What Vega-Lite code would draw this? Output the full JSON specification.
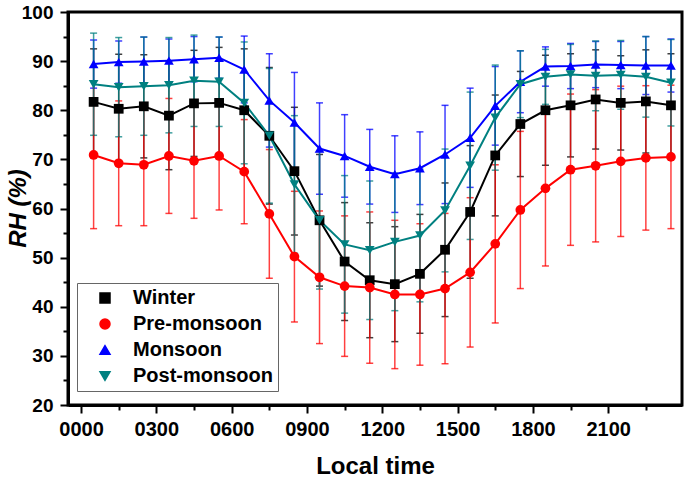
{
  "$schema": "https://vega.github.io/schema/vega-lite/v6.json",
  "width": 614,
  "height": 393,
  "autosize": {"type": "none"},
  "padding": {"left": 68, "top": 12, "right": 3, "bottom": 74},
  "background": "white",
  "config": {
    "view": {"stroke": "black", "strokeWidth": 3},
    "font": "Liberation Sans",
    "axis": {
      "grid": false,
      "labelFont": "Liberation Sans",
      "labelFontWeight": "bold",
      "labelColor": "black",
      "titleFont": "Liberation Sans",
      "titleFontWeight": "bold",
      "titleColor": "black",
      "tickColor": "black",
      "domainColor": "black",
      "domainWidth": 3,
      "tickWidth": 2
    }
  },
  "datasets": {
    "rh": [
      {"t":0.5,"season":"Winter","rh":81.7,"sd":10.8},{"t":1.5,"season":"Winter","rh":80.3,"sd":11.1},{"t":2.5,"season":"Winter","rh":80.8,"sd":10.5},{"t":3.5,"season":"Winter","rh":78.9,"sd":11.0},{"t":4.5,"season":"Winter","rh":81.4,"sd":10.8},{"t":5.5,"season":"Winter","rh":81.5,"sd":11.3},{"t":6.5,"season":"Winter","rh":80.0,"sd":12.5},{"t":7.5,"season":"Winter","rh":74.8,"sd":13.9},{"t":8.5,"season":"Winter","rh":67.6,"sd":13.0},{"t":9.5,"season":"Winter","rh":57.6,"sd":13.4},{"t":10.5,"season":"Winter","rh":49.2,"sd":12.0},{"t":11.5,"season":"Winter","rh":45.4,"sd":11.7},{"t":12.5,"season":"Winter","rh":44.6,"sd":11.7},{"t":13.5,"season":"Winter","rh":46.7,"sd":12.1},{"t":14.5,"season":"Winter","rh":51.6,"sd":13.6},{"t":15.5,"season":"Winter","rh":59.3,"sd":13.5},{"t":16.5,"season":"Winter","rh":70.8,"sd":12.3},{"t":17.5,"season":"Winter","rh":77.2,"sd":10.7},{"t":18.5,"season":"Winter","rh":80.0,"sd":11.2},{"t":19.5,"season":"Winter","rh":81.0,"sd":10.5},{"t":20.5,"season":"Winter","rh":82.2,"sd":10.1},{"t":21.5,"season":"Winter","rh":81.5,"sd":9.6},{"t":22.5,"season":"Winter","rh":81.8,"sd":10.5},{"t":23.5,"season":"Winter","rh":81.0,"sd":10.5},
      {"t":0.5,"season":"Pre-monsoon","rh":70.9,"sd":15.0},{"t":1.5,"season":"Pre-monsoon","rh":69.2,"sd":12.7},{"t":2.5,"season":"Pre-monsoon","rh":68.9,"sd":12.4},{"t":3.5,"season":"Pre-monsoon","rh":70.7,"sd":11.7},{"t":4.5,"season":"Pre-monsoon","rh":69.7,"sd":11.7},{"t":5.5,"season":"Pre-monsoon","rh":70.7,"sd":11.0},{"t":6.5,"season":"Pre-monsoon","rh":67.5,"sd":10.6},{"t":7.5,"season":"Pre-monsoon","rh":58.9,"sd":13.1},{"t":8.5,"season":"Pre-monsoon","rh":50.2,"sd":13.3},{"t":9.5,"season":"Pre-monsoon","rh":46.0,"sd":13.5},{"t":10.5,"season":"Pre-monsoon","rh":44.2,"sd":14.3},{"t":11.5,"season":"Pre-monsoon","rh":43.9,"sd":15.4},{"t":12.5,"season":"Pre-monsoon","rh":42.5,"sd":15.1},{"t":13.5,"season":"Pre-monsoon","rh":42.5,"sd":14.4},{"t":14.5,"season":"Pre-monsoon","rh":43.7,"sd":15.3},{"t":15.5,"season":"Pre-monsoon","rh":47.0,"sd":15.2},{"t":16.5,"season":"Pre-monsoon","rh":52.8,"sd":16.1},{"t":17.5,"season":"Pre-monsoon","rh":59.7,"sd":16.0},{"t":18.5,"season":"Pre-monsoon","rh":64.1,"sd":15.8},{"t":19.5,"season":"Pre-monsoon","rh":67.9,"sd":15.4},{"t":20.5,"season":"Pre-monsoon","rh":68.7,"sd":15.5},{"t":21.5,"season":"Pre-monsoon","rh":69.6,"sd":15.3},{"t":22.5,"season":"Pre-monsoon","rh":70.3,"sd":14.7},{"t":23.5,"season":"Pre-monsoon","rh":70.5,"sd":14.6},
      {"t":0.5,"season":"Monsoon","rh":89.4,"sd":4.9},{"t":1.5,"season":"Monsoon","rh":89.8,"sd":4.3},{"t":2.5,"season":"Monsoon","rh":89.9,"sd":5.0},{"t":3.5,"season":"Monsoon","rh":90.1,"sd":4.4},{"t":4.5,"season":"Monsoon","rh":90.4,"sd":4.6},{"t":5.5,"season":"Monsoon","rh":90.7,"sd":4.2},{"t":6.5,"season":"Monsoon","rh":88.3,"sd":6.8},{"t":7.5,"season":"Monsoon","rh":82.0,"sd":9.5},{"t":8.5,"season":"Monsoon","rh":77.5,"sd":10.2},{"t":9.5,"season":"Monsoon","rh":72.2,"sd":9.3},{"t":10.5,"season":"Monsoon","rh":70.7,"sd":8.4},{"t":11.5,"season":"Monsoon","rh":68.5,"sd":7.6},{"t":12.5,"season":"Monsoon","rh":67.0,"sd":7.8},{"t":13.5,"season":"Monsoon","rh":68.2,"sd":7.4},{"t":14.5,"season":"Monsoon","rh":71.0,"sd":10.0},{"t":15.5,"season":"Monsoon","rh":74.4,"sd":10.1},{"t":16.5,"season":"Monsoon","rh":80.9,"sd":8.0},{"t":17.5,"season":"Monsoon","rh":85.8,"sd":6.3},{"t":18.5,"season":"Monsoon","rh":88.9,"sd":4.0},{"t":19.5,"season":"Monsoon","rh":89.0,"sd":4.6},{"t":20.5,"season":"Monsoon","rh":89.3,"sd":4.7},{"t":21.5,"season":"Monsoon","rh":89.2,"sd":4.8},{"t":22.5,"season":"Monsoon","rh":89.1,"sd":5.9},{"t":23.5,"season":"Monsoon","rh":89.1,"sd":5.4},
      {"t":0.5,"season":"Post-monsoon","rh":85.3,"sd":10.4},{"t":1.5,"season":"Post-monsoon","rh":84.7,"sd":10.1},{"t":2.5,"season":"Post-monsoon","rh":84.9,"sd":10.0},{"t":3.5,"season":"Post-monsoon","rh":85.1,"sd":9.7},{"t":4.5,"season":"Post-monsoon","rh":86.0,"sd":9.3},{"t":5.5,"season":"Post-monsoon","rh":85.8,"sd":9.1},{"t":6.5,"season":"Post-monsoon","rh":81.5,"sd":12.4},{"t":7.5,"season":"Post-monsoon","rh":74.8,"sd":13.7},{"t":8.5,"season":"Post-monsoon","rh":64.9,"sd":14.0},{"t":9.5,"season":"Post-monsoon","rh":57.6,"sd":14.0},{"t":10.5,"season":"Post-monsoon","rh":52.7,"sd":14.0},{"t":11.5,"season":"Post-monsoon","rh":51.5,"sd":14.1},{"t":12.5,"season":"Post-monsoon","rh":53.2,"sd":14.0},{"t":13.5,"season":"Post-monsoon","rh":54.5,"sd":13.5},{"t":14.5,"season":"Post-monsoon","rh":59.6,"sd":12.5},{"t":15.5,"season":"Post-monsoon","rh":68.7,"sd":15.0},{"t":16.5,"season":"Post-monsoon","rh":78.5,"sd":10.7},{"t":17.5,"season":"Post-monsoon","rh":85.3,"sd":6.8},{"t":18.5,"season":"Post-monsoon","rh":86.8,"sd":5.6},{"t":19.5,"season":"Post-monsoon","rh":87.3,"sd":6.1},{"t":20.5,"season":"Post-monsoon","rh":87.0,"sd":7.1},{"t":21.5,"season":"Post-monsoon","rh":87.2,"sd":7.0},{"t":22.5,"season":"Post-monsoon","rh":86.8,"sd":8.2},{"t":23.5,"season":"Post-monsoon","rh":85.6,"sd":8.8}
    ]
  },
  "data": {"name": "rh"},
  "resolve": {"axis": {"x": "independent", "y": "independent"}},
  "layer": [
    {
      "mark": {"type": "errorbar", "ticks": {"size": 7, "thickness": 1.5, "opacity": 0.75}, "rule": {"strokeWidth": 1.5, "opacity": 0.75}},
      "encoding": {
        "x": {"field": "t", "type": "quantitative",
          "scale": {"domain": [-0.52, 23.94], "nice": false, "zero": false},
          "axis": {"orient": "bottom", "values": [0, 3, 6, 9, 12, 15, 18, 21],
            "labelExpr": "(datum.value < 10 ? '0' : '') + datum.value + '00'",
            "labelFontSize": 20, "labelPadding": 6, "tickSize": 8, "labelFlush": false,
            "title": "Local time", "titleFontSize": 24, "titleY": 61, "titleBaseline": "middle", "titleX": 307}},
        "y": {"field": "rh", "type": "quantitative",
          "scale": {"domain": [20, 100], "nice": false, "zero": false},
          "axis": {"orient": "left", "values": [20, 30, 40, 50, 60, 70, 80, 90, 100],
            "labelFontSize": 19, "labelPadding": 7, "tickSize": 8, "labelFlush": false,
            "title": "RH (%)", "titleFontSize": 24, "titleFontStyle": "italic", "titleAngle": -90,
            "titleX": -50, "titleY": 196, "titleAlign": "center", "titleBaseline": "middle"}},
        "yError": {"field": "sd"},
        "color": {"field": "season", "type": "nominal",
          "scale": {"domain": ["Winter", "Pre-monsoon", "Monsoon", "Post-monsoon"], "range": ["#000000", "#ff0000", "#0000ff", "#008080"]},
          "legend": {"title": null, "orient": "none", "legendX": 9, "legendY": 271, "direction": "vertical",
            "labelFont": "Liberation Sans", "labelFontWeight": "bold", "labelFontSize": 20, "labelColor": "black",
            "strokeColor": "#666666", "fillColor": "white", "padding": 5, "rowPadding": 6,
            "symbolOffset": 13, "labelOffset": 18, "symbolSize": 100, "symbolOpacity": 1}}
      }
    },
    {
      "mark": {"type": "line", "strokeWidth": 2},
      "encoding": {
        "x": {"field": "t", "type": "quantitative",
          "axis": {"orient": "bottom", "values": [1.5, 4.5, 7.5, 10.5, 13.5, 16.5, 19.5, 22.5], "labels": false, "domain": false, "tickSize": 5, "title": null}},
        "y": {"field": "rh", "type": "quantitative",
          "axis": {"orient": "left", "values": [25, 35, 45, 55, 65, 75, 85, 95], "labels": false, "domain": false, "tickSize": 5, "title": null}},
        "color": {"field": "season", "type": "nominal"}
      }
    },
    {
      "mark": {"type": "point", "filled": true, "size": 95, "opacity": 1, "strokeWidth": 0},
      "encoding": {
        "x": {"field": "t", "type": "quantitative", "axis": null},
        "y": {"field": "rh", "type": "quantitative", "axis": null},
        "color": {"field": "season", "type": "nominal"},
        "shape": {"field": "season", "type": "nominal",
          "scale": {"domain": ["Winter", "Pre-monsoon", "Monsoon", "Post-monsoon"], "range": ["square", "circle", "triangle-up", "triangle-down"]},
          "legend": null}
      }
    }
  ]
}
